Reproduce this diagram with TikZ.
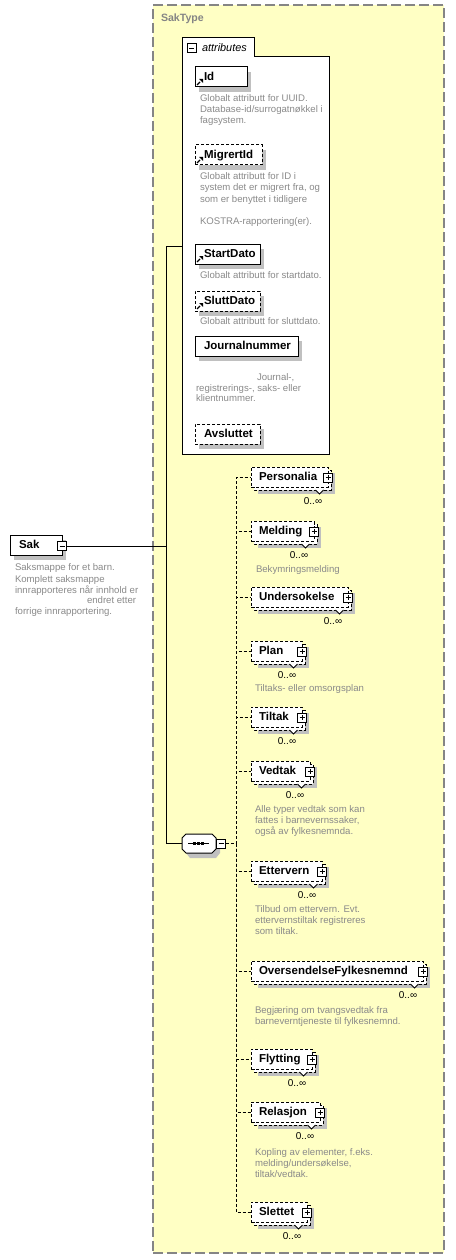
\documentclass[tikz,border=0pt]{standalone}
\usepackage{fontspec}
\setmainfont{Liberation Sans}
\usetikzlibrary{calc}

\definecolor{typefill}{HTML}{FFFFC4}
\definecolor{framegray}{HTML}{858585}
\definecolor{descgray}{HTML}{8A8A8A}
\definecolor{shadowgray}{HTML}{C0C0C0}

\tikzset{
  every node/.style={inner sep=0pt, outer sep=0pt},
  lbl/.style={anchor=west, font=\fontsize{11.5}{13}\selectfont\bfseries, text height=8.4pt, text depth=1pt},
  desc/.style={anchor=west, text=descgray, font=\fontsize{9.6}{11}\selectfont, text height=6.6pt, text depth=1pt},
  mult/.style={font=\fontsize{10}{12}\selectfont, text height=7.2pt, text depth=0pt},
  solidbox/.style={draw=black, line width=1pt, fill=white},
  dashbox/.style={draw=black, line width=1pt, fill=white, dash pattern=on 3pt off 2pt},
  conn/.style={line width=1pt},
  dconn/.style={line width=1pt, dash pattern=on 3pt off 2pt},
  typebox/.style={draw=framegray, fill=typefill, line width=1.5pt, dash pattern=on 10pt off 4pt},
  plusbox/.style={draw=black, fill=white, line width=1pt, minimum size=9pt,
    path picture={\draw[line width=1pt] ([xshift=2pt]path picture bounding box.west) -- ([xshift=-2pt]path picture bounding box.east)
      ([yshift=-2pt]path picture bounding box.north) -- ([yshift=2pt]path picture bounding box.south);}},
  minusbox/.style={draw=black, fill=white, line width=1pt, minimum size=9pt,
    path picture={\draw[line width=1pt] ([xshift=2pt]path picture bounding box.west) -- ([xshift=-2pt]path picture bounding box.east);}},
}

% repeated child element: name, label, centre y, right edge x
\newcommand\childel[4]{%
  \fill[shadowgray] (258,#3-4) rectangle (#4+7,#3+17);
  \draw[dashbox] (254,#3-7) rectangle (#4+3,#3+13);
  \node[dashbox, anchor=west, minimum width={#4-251}, minimum height=20pt] (#1) at (251,#3) {};
  \node[lbl] (#1-lbl) at (259,#3) {#2};
  \node[plusbox] (#1-plus) at (#4,#3+0.5) {};
  \filldraw[fill=white, line width=0.8pt] (#4-12.5,#3+13) -- (#4-8.5,#3+17) -- (#4-4.5,#3+13);
  \node[mult] (#1-mult) at (#4-15,#3+23.5) {0..∞};
}

% attribute: name, label, top y, right edge x, box style
\newcommand\attrel[5]{%
  \fill[shadowgray] (199,#3+5) rectangle (#4+4,#3+25);
  \node[#5, anchor=north west, minimum width={#4-195}, minimum height=20pt] (#1) at (195,#3) {};
  \node[lbl] (#1-lbl) at (204,#3+10) {#2};
}

% reference arrow in the lower left corner of an attribute box
\newcommand\refarrow[1]{%
  \draw[line width=1.1pt] ([xshift=2pt,yshift=2pt]#1.south west) -- ++(3pt,3pt);
  \fill ([xshift=4pt,yshift=8pt]#1.south west) -- ++(4pt,0pt) -- ++(0pt,-4pt) -- cycle;
}

\begin{document}
\begin{tikzpicture}[x=1pt, y=-1pt]
\useasboundingbox[fill=white] (0,0) rectangle (455,1260);

% complex type frame
\node[typebox, anchor=north west, minimum width=291pt, minimum height=1248pt] (saktype) at (153,5) {};
\node[anchor=west, text=framegray, font=\fontsize{10.6}{12}\selectfont\bfseries, text height=7.6pt, text depth=1pt] (saktype-lbl) at (161,18) {SakType};

% attribute group
\node[solidbox, anchor=north west, minimum width=147pt, minimum height=397pt] (attrs) at (182,57) {};
\fill[white] (182.5,38.5) rectangle (253.5,57.8);
\draw[line width=1pt] (182,57) -- (182,38) -- (254,38) -- (254,57);
\node[minusbox] (attrs-minus) at (191.5,48.5) {};
\node[anchor=west, font=\fontsize{10.9}{12}\selectfont\itshape, text height=7.6pt, text depth=1pt] (attrs-lbl) at (202,48) {attributes};

\attrel{id}{Id}{67}{247}{solidbox}
\refarrow{id}
\node[desc] (id-d1) at (200,99) {Globalt attributt for UUID.};
\node[desc] (id-d2) at (200,110) {Database-id/surrogatnøkkel i};
\node[desc] (id-d3) at (200,121) {fagsystem.};

\attrel{migrertid}{MigrertId}{145}{262}{dashbox}
\refarrow{migrertid}
\node[desc] (mig-d1) at (200,177) {Globalt attributt for ID i};
\node[desc] (mig-d2) at (200,188) {system det er migrert fra, og};
\node[desc] (mig-d3) at (200,199.5) {som er benyttet i tidligere};
\node[desc] (mig-d4) at (200,222) {KOSTRA-rapportering(er).};

\attrel{startdato}{StartDato}{244}{260}{solidbox}
\refarrow{startdato}
\node[desc] (start-d1) at (200,276) {Globalt attributt for startdato.};

\attrel{sluttdato}{SluttDato}{291}{260}{dashbox}
\refarrow{sluttdato}
\node[desc] (slutt-d1) at (200,322) {Globalt attributt for sluttdato.};

\attrel{journalnummer}{Journalnummer}{336}{298}{solidbox}
\node[desc] (jour-d1) at (257,378) {Journal-,};
\node[desc] (jour-d2) at (196,388.5) {registrerings-, saks- eller};
\node[desc] (jour-d3) at (196,399) {klientnummer.};

\attrel{avsluttet}{Avsluttet}{424}{260}{dashbox}

% the Sak element
\fill[shadowgray] (14,540) rectangle (66,560);
\node[solidbox, anchor=north west, minimum width=52pt, minimum height=20pt] (sak) at (10,535) {};
\node[lbl] (sak-lbl) at (19,545) {Sak};
\node[minusbox] (sakminus) at (62,546) {};
\node[desc] (sak-d1) at (15,568) {Saksmappe for et barn.};
\node[desc] (sak-d2) at (15,579.5) {Komplett saksmappe};
\node[desc] (sak-d3) at (15,590.5) {innrapporteres når innhold er};
\node[desc] (sak-d4) at (87,601) {endret etter};
\node[desc] (sak-d5) at (15,611.5) {forrige innrapportering.};

% sequence compositor
\fill[shadowgray] (190,838) -- (216,838) -- (220,842) -- (220,853) -- (216,858) -- (190,858) -- (186,853) -- (186,842) -- cycle;
\node[minimum width=34pt, minimum height=19pt] (seq) at (199,843.5) {};
\filldraw[fill=white, line width=1pt] (186,834) -- (212,834) -- (216,838) -- (216,849) -- (212,853) -- (186,853) -- (182,849) -- (182,838) -- cycle;
\draw[line width=1pt] (188,843.5) -- (209,843.5);
\foreach \dx in {194.5,198.5,202.5} \fill (\dx-1.5,842) rectangle (\dx+1.5,845);
\node[minusbox] (seqminus) at (221,843.5) {};

% element children
\childel{personalia}{Personalia}{477}{328}
\childel{melding}{Melding}{531}{314}
\node[desc] (melding-d1) at (256,570) {Bekymringsmelding};
\childel{undersokelse}{Undersokelse}{597}{348}
\childel{plan}{Plan}{651}{302}
\node[desc] (plan-d1) at (255,689) {Tiltaks- eller omsorgsplan};
\childel{tiltak}{Tiltak}{717}{302}
\childel{vedtak}{Vedtak}{771}{310}
\node[desc] (vedtak-d1) at (255,810) {Alle typer vedtak som kan};
\node[desc] (vedtak-d2) at (255,821) {fattes i barnevernssaker,};
\node[desc] (vedtak-d3) at (255,832) {også av fylkesnemnda.};
\childel{ettervern}{Ettervern}{871}{322}
\node[desc] (etter-d1) at (255,910) {Tilbud om ettervern. Evt.};
\node[desc] (etter-d2) at (255,921) {ettervernstiltak registreres};
\node[desc] (etter-d3) at (255,932) {som tiltak.};
\childel{oversendelse}{OversendelseFylkesnemnd}{971}{423}
\node[desc] (overs-d1) at (255,1011) {Begjæring om tvangsvedtak fra};
\node[desc] (overs-d2) at (255,1021.5) {barneverntjeneste til fylkesnemnd.};
\childel{flytting}{Flytting}{1059}{312}
\childel{relasjon}{Relasjon}{1112}{320}
\node[desc] (rel-d1) at (255,1153) {Kopling av elementer, f.eks.};
\node[desc] (rel-d2) at (255,1164) {melding/undersøkelse,};
\node[desc] (rel-d3) at (255,1175) {tiltak/vedtak.};
\childel{slettet}{Slettet}{1212}{307}

% connectors
\coordinate (spine) at (166,546);
\coordinate (attrs-in) at (182,246);
\coordinate (trunk) at (236,843.5);
\draw[conn] (sakminus.east) -- (spine);
\draw[conn] (spine) |- (attrs-in);
\draw[conn] (spine) |- (seq.west);
\draw[dconn] (seqminus.east) -- (trunk);
\foreach \n in {personalia,melding,undersokelse,plan,tiltak,vedtak,ettervern,oversendelse,flytting,relasjon,slettet}
  \draw[dconn] (trunk) |- (\n.west);
\end{tikzpicture}
\end{document}
